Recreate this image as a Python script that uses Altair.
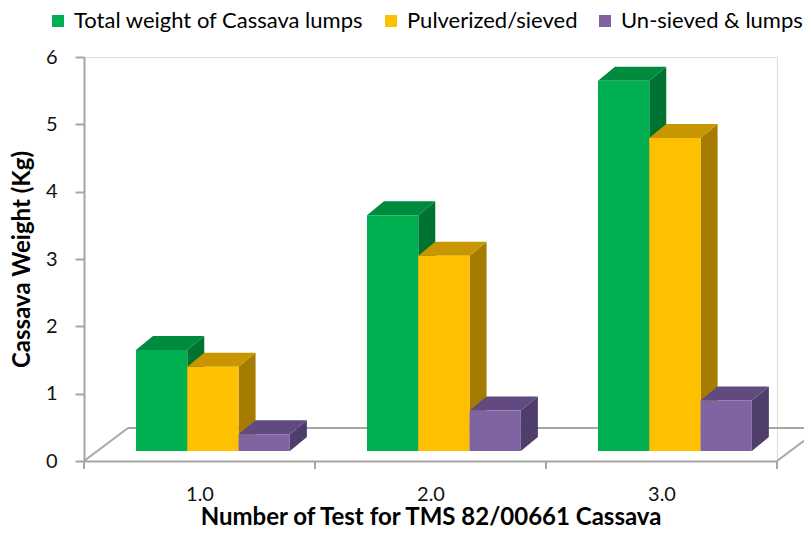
import altair as alt
import pandas as pd

# ---- data ----
tests = [1, 2, 3]
series = ["Total weight of Cassava lumps", "Pulverized/sieved", "Un-sieved & lumps"]
total_weight = [1.5, 3.5, 5.5]
pulverized = [1.25, 2.9, 4.65]
unsieved = [0.25, 0.6, 0.75]
y_ticks = [0, 1, 2, 3, 4, 5, 6]

front_colors = ["#00b050", "#ffc000", "#8064a2"]
top_colors = ["#008a3e", "#c89600", "#604a80"]
side_colors = ["#007232", "#a67c00", "#4f3d6a"]

# ---- geometry (pseudo 3-D) ----
W, H = 693, 404
X_DOMAIN = [0.5, 3.5]
Y_DOMAIN = [0, 6]
px_x = W / (X_DOMAIN[1] - X_DOMAIN[0])
px_y = H / (Y_DOMAIN[1] - Y_DOMAIN[0])
BAR_W = 51.3 / px_x
GROUP_START = -0.275
DX = 17 / px_x
DY = 14 / px_y
BASE_OFF = -10  # bars stand slightly back on the floor

values = [total_weight, pulverized, unsieved]
front_rows, side_rows, top_rows = [], [], []
for si, s in enumerate(series):
    for ti, t in enumerate(tests):
        v = values[si][ti]
        x0 = t + GROUP_START + si * BAR_W
        x1 = x0 + BAR_W
        fid = f"{si}-{ti}"
        front_rows.append(dict(series=s, test=t, value=v, x0=x0, x1=x1, y0=0.0))
        side_rows += [
            dict(id=fid, hex=side_colors[si], x=x1, top=v, bot=0.0),
            dict(id=fid, hex=side_colors[si], x=x1 + DX, top=v + DY, bot=DY),
        ]
        top_rows += [
            dict(id=fid, hex=top_colors[si], y=v, xa=x0, xb=x1),
            dict(id=fid, hex=top_colors[si], y=v + DY, xa=x0 + DX, xb=x1 + DX),
        ]
front_df = pd.DataFrame(front_rows)
side_df = pd.DataFrame(side_rows)
top_df = pd.DataFrame(top_rows)

band_edges = [t - 0.5 for t in tests] + [tests[-1] + 0.5]
edge_df = pd.DataFrame({"e": band_edges, "z": 0.0})
floor_side_df = pd.DataFrame({"e": [band_edges[0], band_edges[-1]], "z": 0.0})
floor_back_df = pd.DataFrame({"a": [band_edges[0]], "b": [band_edges[-1]], "z": [0.0]})

GRAY = "#a6a6a6"
FONT = "Lato"

xs = alt.Scale(domain=X_DOMAIN, nice=False, zero=False)
ys = alt.Scale(domain=Y_DOMAIN, nice=False, zero=False)

xaxis = alt.Axis(
    values=tests, format=".1f", ticks=False, tickSize=0, grid=False,
    labelPadding=23, labelFontSize=20, labelFont=FONT, labelColor="#111",
    domainColor=GRAY, domainWidth=2,
    title="Number of Test for TMS 82/00661 Cassava", titleFont=FONT,
    titleFontSize=24, titleFontWeight="bold", titleColor="#000",
    titleY=63, titleBaseline="alphabetic",
)
yaxis = alt.Axis(
    values=y_ticks, format="d", grid=False, tickSize=9, tickColor=GRAY,
    tickWidth=2, domainColor=GRAY, domainWidth=2, labelPadding=18,
    labelFontSize=20, labelFont=FONT, labelColor="#111",
    title="Cassava Weight (Kg)", titleFont=FONT, titleFontSize=24,
    titleFontWeight="bold", titleColor="#000", titleX=-50,
)

floor_side = alt.Chart(floor_side_df).mark_rule(
    color=GRAY, strokeWidth=2, x2Offset=44, y2Offset=-33
).encode(
    x=alt.X("e:Q", scale=xs, axis=xaxis), x2="e:Q",
    y=alt.Y("z:Q", scale=ys, axis=yaxis), y2="z:Q",
)
floor_back = alt.Chart(floor_back_df).mark_rule(
    color=GRAY, strokeWidth=2, xOffset=44, x2Offset=44, yOffset=-33
).encode(
    x=alt.X("a:Q", scale=xs, axis=xaxis), x2="b:Q",
    y=alt.Y("z:Q", scale=ys, axis=yaxis),
)
ticks = alt.Chart(edge_df).mark_rule(
    color=GRAY, strokeWidth=2, y2Offset=8
).encode(
    x=alt.X("e:Q", scale=xs, axis=xaxis),
    y=alt.Y("z:Q", scale=ys, axis=yaxis), y2="z:Q",
)
sides = alt.Chart(side_df).mark_area(
    yOffset=BASE_OFF, y2Offset=BASE_OFF
).encode(
    x=alt.X("x:Q", scale=xs, axis=xaxis),
    y=alt.Y("top:Q", scale=ys, axis=yaxis), y2="bot:Q",
    detail="id:N", fill=alt.Fill("hex:N", scale=None),
)
tops = alt.Chart(top_df).mark_area(
    orient="horizontal", yOffset=BASE_OFF
).encode(
    y=alt.Y("y:Q", scale=ys, axis=yaxis),
    x=alt.X("xa:Q", scale=xs, axis=xaxis), x2="xb:Q",
    detail="id:N", fill=alt.Fill("hex:N", scale=None),
)
fronts = alt.Chart(front_df).mark_rect(
    yOffset=BASE_OFF, y2Offset=BASE_OFF
).encode(
    x=alt.X("x0:Q", scale=xs, axis=xaxis), x2="x1:Q",
    y=alt.Y("value:Q", scale=ys, axis=yaxis), y2="y0:Q",
    color=alt.Color(
        "series:N",
        scale=alt.Scale(domain=series, range=front_colors),
        legend=alt.Legend(
            orient="none", legendX=-37, legendY=-47, direction="horizontal",
            title=None, symbolType="square", symbolSize=144,
            symbolStrokeWidth=0, labelFont=FONT, labelFontSize=22,
            labelColor="#000", columnPadding=16, labelOffset=5, padding=0,
            labelLimit=0,
        ),
    ),
    tooltip=["series:N", "test:Q", "value:Q"],
)

chart = alt.layer(floor_side, floor_back, ticks, sides, tops, fronts).properties(
    width=W, height=H,
    autosize=alt.AutoSizeParams(type="none"),
    padding={"left": 76, "top": 49, "right": 27, "bottom": 65},
).configure_view(stroke=None).configure(background="white")

chart.save("out.html", embed_options={"renderer": "svg", "actions": False})
